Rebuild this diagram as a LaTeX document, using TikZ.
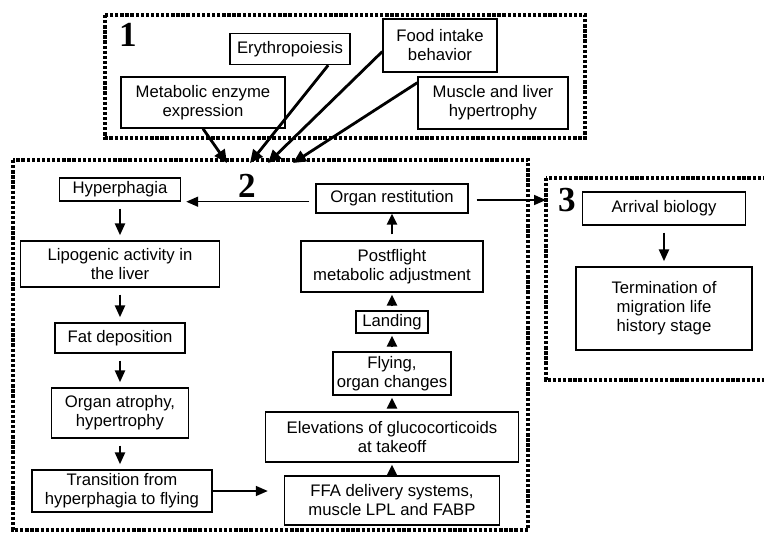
\documentclass[tikz,border=0pt]{standalone}
\usepackage{fontspec}
\setmainfont{Liberation Sans}
\newfontfamily\numfont{Liberation Serif}
\usetikzlibrary{arrows.meta}

\tikzset{
  box/.style={draw, line width=0.8pt, align=center, inner sep=0pt,
    font=\fontsize{9.5}{10.8}\selectfont},
  grp/.style={draw, line width=1.9pt, densely dotted},
  num/.style={font=\numfont\bfseries\fontsize{20}{20}\selectfont},
  flow/.style={line width=1.4pt, -{Triangle[length=2.4mm,width=2mm]},
    shorten <=1.4mm, shorten >=1mm},
  up/.style={line width=1.4pt, -{Triangle[length=2.2mm,width=2mm]},
    shorten <=0.8mm, shorten >=0.4mm},
  feed/.style={line width=1.6pt, -{Triangle[length=2.6mm,width=2.4mm]}},
  link/.style={line width=0.9pt, -{Triangle[length=2.4mm,width=2mm]}}
}

\begin{document}
\begin{tikzpicture}[x=0.2mm,y=-0.2mm]
  \useasboundingbox (0,0) rectangle (764,533);

  % dotted group frames
  \draw[grp] (105,15) rectangle (585,138);
  \draw[grp] (13,160) rectangle (528,530);
  \draw[grp] (546,178) rectangle (770,380);

  \node[num] (n1) at (128,35) {1};
  \node[num] (n2) at (247,186) {2};
  \node[num] (n3) at (567,200) {3};

  % group 1
  \node[box, minimum width=24mm, minimum height=6.2mm] (ery) at (290,49) {Erythropoiesis};
  \node[box, minimum width=22.8mm, minimum height=10.6mm] (food) at (440,45.5) {Food intake\\behavior};
  \node[box, minimum width=32.8mm, minimum height=10.2mm] (metab) at (203,102.5) {Metabolic enzyme\\expression};
  \node[box, minimum width=30mm, minimum height=10.4mm] (muscle) at (493,103) {Muscle and liver\\hypertrophy};

  % group 2, left column
  \node[box, minimum width=24.2mm, minimum height=4.6mm] (hyper) at (120,189.5) {Hyperphagia};
  \node[box, minimum width=39.8mm, minimum height=9.2mm] (lipo) at (120,264) {Lipogenic activity in\\the liver};
  \node[box, minimum width=26mm, minimum height=6mm] (fat) at (120,338) {Fat deposition};
  \node[box, minimum width=27.4mm, minimum height=10mm] (atrophy) at (120,413) {Organ atrophy,\\hypertrophy};
  \node[box, minimum width=36mm, minimum height=8.4mm] (trans) at (122,491) {Transition from\\hyperphagia to flying};

  % group 2, right column
  \node[box, minimum width=30.4mm, minimum height=5.8mm] (orgrest) at (392,198.5) {Organ restitution};
  \node[box, minimum width=36.4mm, minimum height=10.2mm] (postfl) at (392,266.5) {Postflight\\metabolic adjustment};
  \node[box, minimum width=14.4mm, minimum height=4.4mm] (landing) at (392,322) {Landing};
  \node[box, minimum width=23.6mm, minimum height=8.6mm] (flying) at (392,373.5) {Flying,\\organ changes};
  \node[box, minimum width=50.6mm, minimum height=10mm] (elev) at (392,437) {Elevations of glucocorticoids\\at takeoff};
  \node[box, minimum width=43mm, minimum height=9.8mm] (ffa) at (392,500.5) {FFA delivery systems,\\muscle LPL and FABP};

  % group 3
  \node[box, minimum width=32.6mm, minimum height=6.6mm] (arrival) at (664,208.5) {Arrival biology};
  \node[box, minimum width=35.2mm, minimum height=16.6mm] (term) at (664,308.5) {Termination of\\migration life\\history stage};

  % ends on the frames
  \coordinate (e1) at (227,163);
  \coordinate (e2) at (250,163);
  \coordinate (e3) at (268,163);
  \coordinate (e4) at (293,163);
  \coordinate (g3w) at (546,200);

  \draw[feed] (metab.south) -- (e1);
  \draw[feed] (ery.-23) -- (e2);
  \draw[feed] (food.186) -- (e3);
  \draw[feed] (muscle.165) -- (e4);

  \draw[flow] (hyper) -- (lipo);
  \draw[flow] (lipo) -- (fat);
  \draw[flow] (fat) -- (atrophy);
  \draw[flow] (atrophy.south) -- (atrophy.south |- trans.north);
  \draw[link, shorten >=3.2mm] (trans.east) -- (trans.east -| ffa.west);

  \draw[up] (ffa) -- (elev);
  \draw[up] (elev) -- (flying);
  \draw[up] (flying) -- (landing);
  \draw[up] (landing) -- (postfl);
  \draw[up, shorten <=1.2mm, shorten >=0pt] (postfl) -- (orgrest);

  \draw[link, shorten <=1.2mm, shorten >=1mm] (orgrest.west |- hyper.south east) -- (hyper.south east);
  \draw[link, shorten <=1.6mm] (orgrest.east |- g3w) -- (g3w);

  \draw[flow] (arrival) -- (term);
\end{tikzpicture}
\end{document}
